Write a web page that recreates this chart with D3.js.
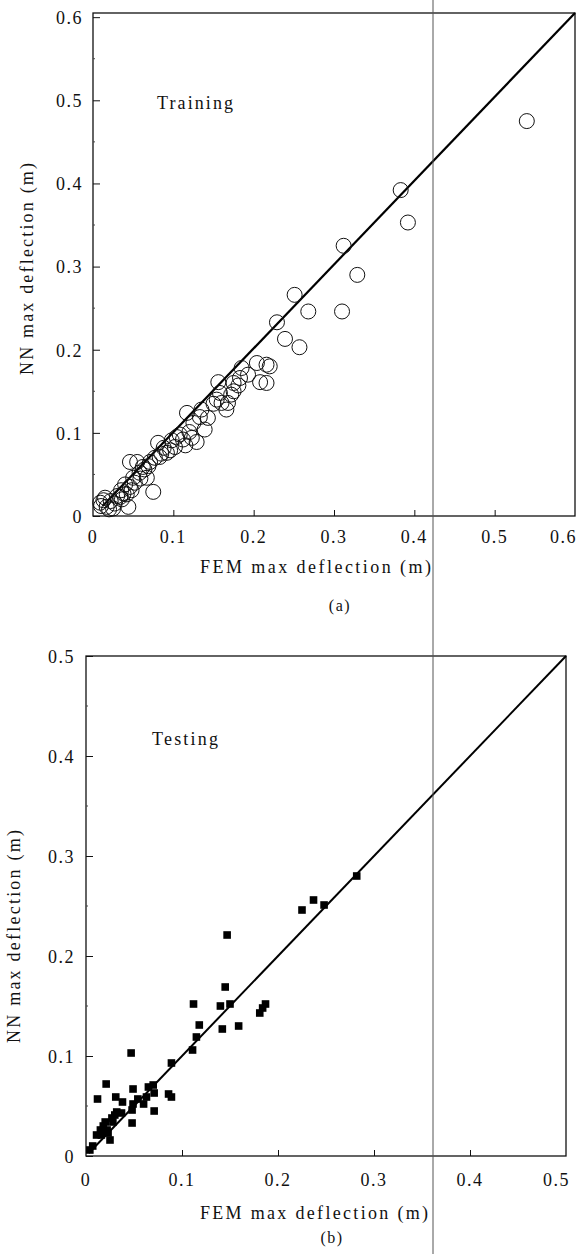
<!DOCTYPE html>
<html>
<head>
<meta charset="UTF-8" />
<title>FEM vs NN deflection</title>
<script src="https://cdn.jsdelivr.net/npm/d3@7"></script>
<style>
body{margin:0;background:#fff;}
text{font-family:"Liberation Serif","Times New Roman",serif;fill:#111;}
</style>
</head>
<body>
<div id="svg_container"></div>
<script type="text/javascript">

var w=578,h=1254;

// (a) training data: FEM max deflection vs NN max deflection (m)
var trainFEM=[0.540,0.383,0.392,0.312,0.329,0.251,0.268,0.310,0.229,0.239,0.257,0.204,0.216,0.185,0.208,0.216,
  0.183,0.175,0.156,0.158,0.160,0.168,0.154,0.117,0.133,0.143,0.125,0.129,0.115,0.098,0.096,0.081,0.083,0.071,
  0.062,0.055,0.046,0.058,0.067,0.075,0.050,0.048,0.038,0.034,0.044,0.013,0.009,0.017,0.027,0.046,0.092,0.104,
  0.123,0.172,0.166,0.139,0.108,0.088,0.064,0.040,0.030,0.022,0.010,0.025,0.193,0.120,0.077,0.059,0.035,0.220,0.181,
  0.015,0.020,0.036,0.042,0.052,0.069,0.085,0.102,0.112,0.135,0.150,0.175];
var trainNN=[0.475,0.392,0.353,0.325,0.290,0.266,0.246,0.246,0.233,0.213,0.203,0.184,0.182,0.178,0.161,0.160,
  0.166,0.160,0.161,0.148,0.136,0.136,0.140,0.124,0.119,0.118,0.112,0.089,0.085,0.091,0.079,0.088,0.071,0.065,
  0.059,0.065,0.065,0.052,0.046,0.029,0.046,0.031,0.027,0.023,0.011,0.019,0.016,0.011,0.015,0.035,0.076,0.095,
  0.094,0.146,0.128,0.104,0.098,0.082,0.056,0.038,0.024,0.018,0.012,0.009,0.170,0.101,0.070,0.045,0.031,0.180,0.157,
  0.022,0.008,0.020,0.026,0.040,0.060,0.075,0.083,0.092,0.128,0.135,0.150];

// (b) testing data
var testFEM=[0.147,0.145,0.112,0.140,0.150,0.118,0.115,0.142,0.159,0.181,0.187,0.184,0.111,0.047,0.089,0.021,
  0.049,0.012,0.031,0.038,0.086,0.089,0.065,0.070,0.071,0.071,0.060,0.054,0.063,0.049,0.048,0.048,0.037,0.032,
  0.027,0.030,0.020,0.022,0.025,0.016,0.011,0.015,0.018,0.007,0.004,0.023,0.028,0.225,0.237,0.248,0.282];
var testNN=[0.221,0.169,0.152,0.150,0.152,0.131,0.119,0.127,0.130,0.143,0.152,0.148,0.106,0.103,0.093,0.072,
  0.067,0.057,0.059,0.054,0.062,0.059,0.069,0.071,0.063,0.045,0.052,0.057,0.059,0.052,0.046,0.033,0.043,0.044,
  0.038,0.041,0.034,0.026,0.016,0.021,0.021,0.026,0.030,0.010,0.006,0.023,0.034,0.246,0.256,0.251,0.280];

var ticksA=[0,0.1,0.2,0.3,0.4,0.5,0.6];
var minorA=[0.05,0.15,0.25,0.35,0.45,0.55];
var ticksB=[0,0.1,0.2,0.3,0.4,0.5];
var minorB=[0.05,0.15,0.25,0.35,0.45];

var svg=d3.select('#svg_container')
          .append('svg')
          .attr('width',w)
          .attr('height',h);

svg.append('rect').attr('width',w).attr('height',h).attr('fill','white');

//畫一個面板
function panel(o){
  var x=d3.scaleLinear().domain(o.xdom).range([o.left,o.right]);
  var y=d3.scaleLinear().domain(o.ydom).range([o.bottom,o.top]);
  var g=svg.append('g');

  //外框
  g.append('rect')
   .attr('x',o.left).attr('y',o.top)
   .attr('width',o.right-o.left).attr('height',o.bottom-o.top)
   .attr('fill','none').attr('stroke','#111').attr('stroke-width',1.3);

  //y軸 (刻度朝內)
  var yAxis=g.append('g')
   .attr('transform','translate('+o.left+',0)')
   .call(d3.axisRight(y).tickValues(o.ticks).tickSize(7).tickFormat(function(d){return d===0?'0':d3.format('.1f')(d);}));
  yAxis.select('.domain').remove();
  yAxis.selectAll('line').attr('stroke','#111').attr('stroke-width',1);
  yAxis.selectAll('text')
   .attr('x',o.ylabX-o.left).attr('text-anchor','end').attr('dy','0.35em')
   .style('font-size','18px').style('letter-spacing','1.5px')
   .style('font-family','"Liberation Serif",serif').attr('fill','#111');

  g.append('g').selectAll('line').data(o.minor).enter().append('line')
   .attr('x1',o.left).attr('x2',o.left+2)
   .attr('y1',function(d){return y(d);}).attr('y2',function(d){return y(d);})
   .attr('stroke','#444').attr('stroke-width',1);

  //x軸
  var xAxis=g.append('g')
   .attr('transform','translate(0,'+o.bottom+')')
   .call(d3.axisTop(x).tickValues(o.ticks.slice(1,-1)).tickSize(6).tickFormat(''));
  xAxis.select('.domain').remove();
  xAxis.selectAll('line').attr('stroke','#111').attr('stroke-width',1);

  g.append('g').selectAll('text').data(o.ticks).enter().append('text')
   .attr('x',function(d,i){return i==o.ticks.length-1?o.right+o.lastShift:x(d);})
   .attr('y',o.xlabY)
   .attr('text-anchor',function(d,i){return i==o.ticks.length-1?'end':'middle';})
   .style('font-size','18px').style('letter-spacing','1.5px')
   .text(function(d){return d===0?'0':d3.format('.1f')(d);});

  //標題
  g.append('text')
   .attr('x',o.xtitle[0]).attr('y',o.xtitle[1])
   .attr('textLength',o.xtitle[2]).attr('lengthAdjust','spacing')
   .style('font-size','18px')
   .text('FEM max deflection (m)');

  g.append('text')
   .attr('transform','translate('+o.ytitle[0]+','+o.ytitle[1]+') rotate(-90)')
   .attr('textLength',o.ytitle[2]).attr('lengthAdjust','spacing')
   .style('font-size','18px')
   .text('NN max deflection (m)');

  g.append('text')
   .attr('x',o.label[0]).attr('y',o.label[1])
   .attr('textLength',o.label[2]).attr('lengthAdjust','spacing')
   .style('font-size','18px')
   .text(o.name);

  g.append('text')
   .attr('x',o.sub[0]).attr('y',o.sub[1])
   .attr('text-anchor','middle')
   .style('font-size','16px').style('letter-spacing','1.5px')
   .text(o.subText);

  //y=x 線
  g.append('line')
   .attr('x1',x(o.line[0])).attr('y1',y(o.line[0]))
   .attr('x2',x(o.line[1])).attr('y2',y(o.ydom[1]))
   .attr('stroke','#000').attr('stroke-width',o.lineW);

  return {x:x,y:y,g:g};
}

var pa=panel({xdom:[0,0.6],ydom:[0,0.605],left:93,right:575,top:13,bottom:516,
  ticks:ticksA,minor:minorA,ylabX:83,xlabY:543,lastShift:2,
  xtitle:[200,573,231],ytitle:[33,375,212],label:[157,109,76],name:'Training',
  sub:[340,611],subText:'(a)',line:[0.012,0.6],lineW:2.2});

//圓圈
pa.g.append('g').selectAll('circle')
  .data(trainFEM).enter().append('circle')
  .attr('cx',function(d){return pa.x(d);})
  .attr('cy',function(d,i){return pa.y(trainNN[i]);})
  .attr('r',7.5)
  .attr('fill','none')
  .attr('stroke','#111')
  .attr('stroke-width',1);

var pb=panel({xdom:[0,0.5],ydom:[0,0.5],left:86,right:566,top:656,bottom:1156,
  ticks:ticksB,minor:minorB,ylabX:75,xlabY:1186,lastShift:4,
  xtitle:[200,1219,228],ytitle:[20,1043,213],label:[152,745,66],name:'Testing',
  sub:[332,1243],subText:'(b)',line:[0.003,0.5],lineW:2});

//實心方塊
pb.g.append('g').selectAll('rect')
  .data(testFEM).enter().append('rect')
  .attr('x',function(d){return pb.x(d)-3.8;})
  .attr('y',function(d,i){return pb.y(testNN[i])-3.8;})
  .attr('width',7.6)
  .attr('height',7.6)
  .attr('fill','#000');

//掃描留下的直線
svg.append('line')
  .attr('x1',433).attr('x2',433).attr('y1',0).attr('y2',h)
  .attr('stroke','#555').attr('stroke-width',1);

</script>
</body>
</html>
